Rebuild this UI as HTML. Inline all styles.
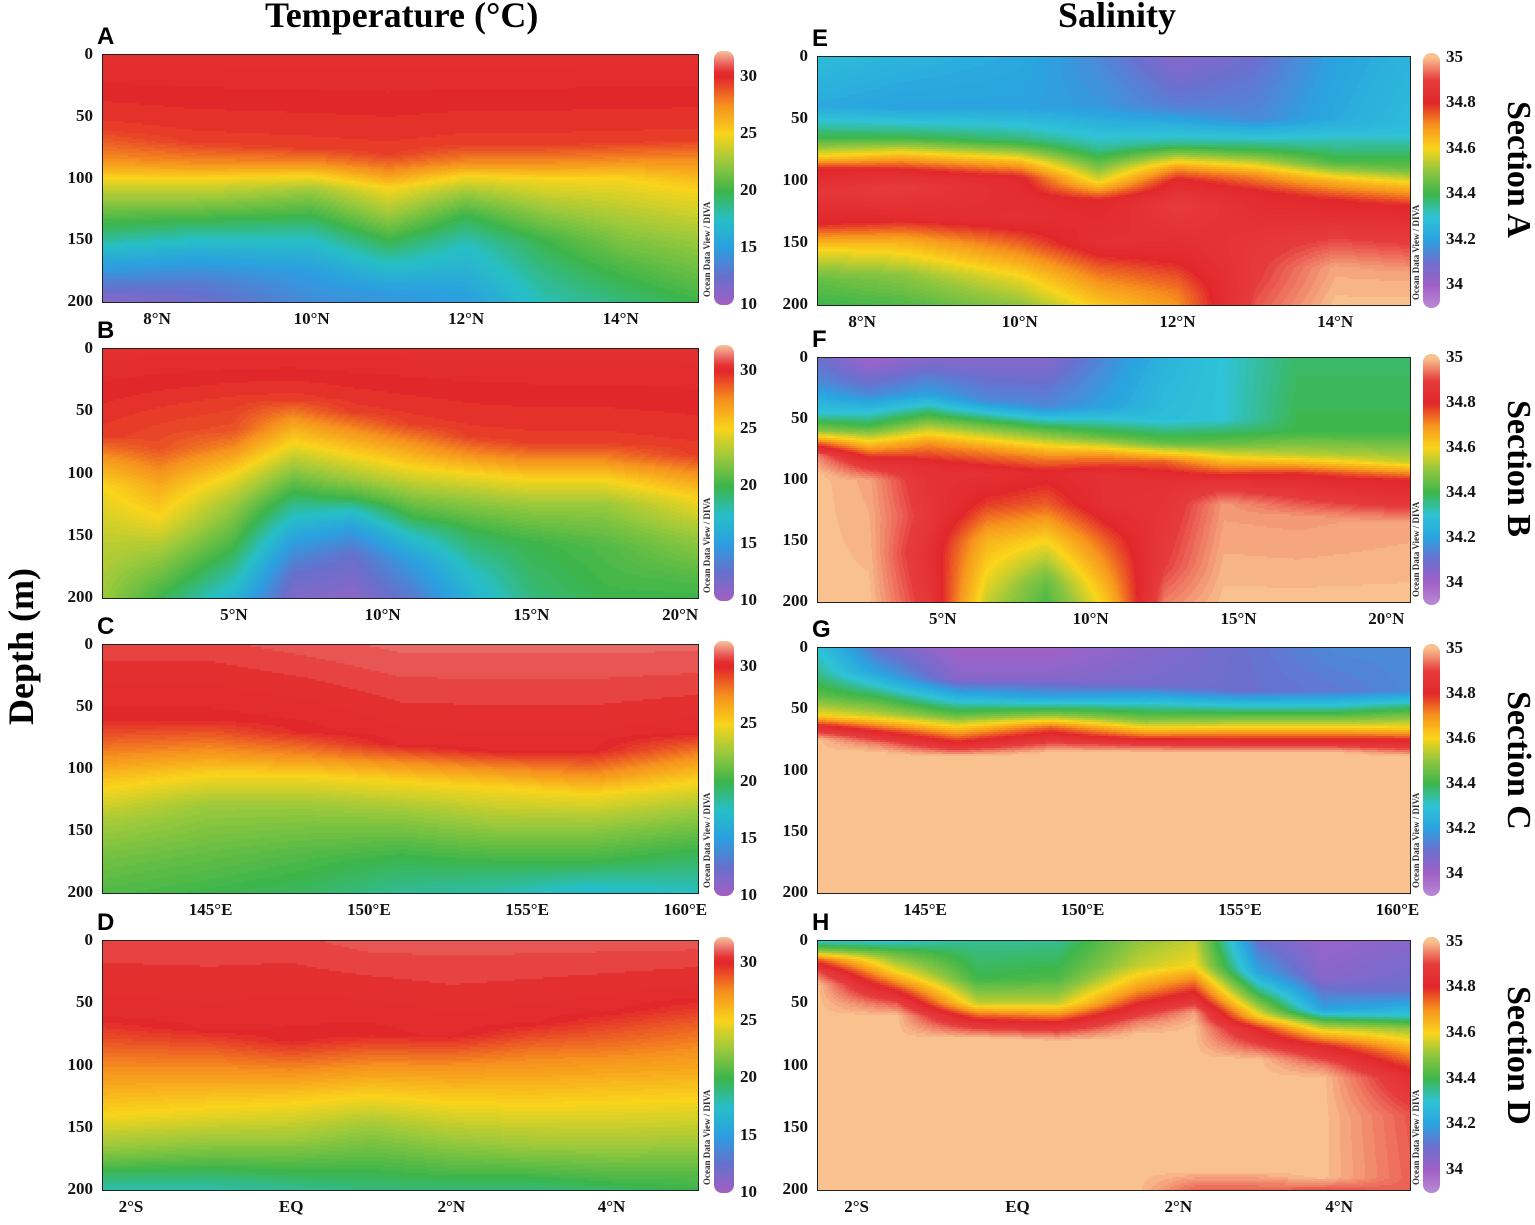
<!DOCTYPE html>
<html><head><meta charset="utf-8">
<style>
body{margin:0;background:#fff;}
#fig{position:relative;width:1535px;height:1225px;overflow:hidden;background:#fff;font-family:"Liberation Serif",serif;}
.abs{position:absolute;}
svg.field{position:absolute;}
.tick{position:absolute;font-family:"Liberation Serif",serif;font-weight:bold;font-size:17px;color:#111;white-space:nowrap;}
.plet{position:absolute;font-family:"Liberation Sans",sans-serif;font-weight:bold;font-size:24px;}
.frame{position:absolute;border:1.5px solid #222;box-sizing:border-box;}
.cbar{position:absolute;border-radius:8px;}
.odv{position:absolute;font-size:9px;font-weight:bold;color:#333;transform:rotate(-90deg);transform-origin:left top;white-space:nowrap;}
.sec{position:absolute;font-weight:bold;font-size:34px;transform:rotate(90deg);transform-origin:left top;white-space:nowrap;}
</style></head><body>
<div id="fig">
<div class="abs" style="left:265px;top:-6px;font-size:36px;font-weight:bold;">Temperature (°C)</div>
<div class="abs" style="left:1058px;top:-6px;font-size:36px;font-weight:bold;">Salinity</div>
<div class="abs" style="left:0px;top:725px;font-size:36px;font-weight:bold;transform:rotate(-90deg);transform-origin:left top;white-space:nowrap;">Depth (m)</div>
</div>
<script>
// ---------- DATA ----------
var tempTicks=[10,15,20,25,30];
var salTicks=[34,34.2,34.4,34.6,34.8,35];
var depthTicks=[0,50,100,150,200];

var stationsA=[7.3,8.5,10,11,12,13,14,15];
var profilesA=[
[[0,30.5],[60,29.5],[85,27.5],[100,25],[120,22],[145,19],[165,16],[190,12.5],[200,11]],
[[0,30.5],[70,29.5],[88,27.5],[100,25],[120,22],[140,19],[160,16],[185,13],[200,12]],
[[0,30.5],[75,29.5],[88,27.5],[98,25],[110,22.5],[130,20],[150,17.5],[175,15],[200,14]],
[[0,30.5],[80,29.5],[95,27.5],[108,25],[130,22.5],[150,20],[170,17.5],[190,15],[200,14.5]],
[[0,30.5],[72,29.5],[88,27.5],[98,25],[112,22.5],[130,20],[155,17.5],[190,15.5],[200,15]],
[[0,30.5],[72,29.5],[88,27.5],[100,25],[125,22.5],[150,20],[200,17.8]],
[[0,30.5],[70,29.5],[86,27.5],[100,25],[130,23],[170,20.5],[200,19]],
[[0,30.5],[68,29.5],[85,27.5],[110,25],[150,22.5],[180,21],[200,20]]];

var stationsB=[0.6,2.5,5,7,9,11,13,15,17.5,20.6];
var profilesB=[
[[0,30.5],[70,29.5],[90,27],[110,25],[150,23.5],[200,22.5]],
[[0,30.5],[80,29],[110,26.5],[135,25],[165,22.5],[200,20]],
[[0,30.5],[65,29],[80,27.5],[100,25],[125,22.5],[160,20],[190,17.5],[200,16.5]],
[[0,30.5],[40,29.5],[55,27.5],[75,25],[95,22.5],[115,20],[135,17.5],[155,15],[180,12.5],[200,11.5]],
[[0,30.5],[50,29.5],[65,27.5],[85,25],[105,22.5],[120,20],[130,17.5],[145,15],[165,12.5],[200,11]],
[[0,30.5],[60,29.5],[75,27.5],[95,25],[115,22.5],[135,20],[150,17.5],[170,15],[200,13]],
[[0,30.5],[70,29.5],[85,27.5],[100,25],[120,22.5],[145,20],[180,17.5],[200,16.5]],
[[0,30.5],[75,29.5],[90,27.5],[105,25],[125,22.5],[155,20],[200,19]],
[[0,30.5],[75,29.5],[90,27.5],[105,25],[125,22.5],[160,20.5],[200,20]],
[[0,30.5],[85,29.5],[100,27.5],[120,25],[150,22.5],[185,20.5],[200,20]]];

var stationsC=[141.6,145,148,151,154,157,160.4];
var profilesC=[
[[0,30.8],[60,30],[85,28],[110,25.5],[140,23],[170,21.5],[200,20.5]],
[[0,30.8],[60,30],[85,27.5],[105,25],[130,22.5],[170,21],[200,20]],
[[0,31],[70,30],[90,27.5],[105,25],[130,22.5],[170,20.5],[200,19.5]],
[[0,31.2],[80,30.2],[95,27.5],[110,25],[135,22.5],[170,20],[200,18.5]],
[[0,31.2],[85,30.2],[100,27.5],[115,25],[145,22.5],[175,20],[200,18]],
[[0,31.2],[85,30.2],[105,27.5],[120,25],[145,22.5],[175,20],[195,17.5],[200,17]],
[[0,31.2],[70,30.2],[90,27.5],[110,25],[135,22.5],[165,20],[195,18],[200,17.5]]];

var stationsD=[-2.35,-1,0,1,2,3,4,5.08];
var profilesD=[
[[0,30.8],[60,30.2],[80,29],[110,27],[140,25],[170,22],[195,18.5],[200,18]],
[[0,30.8],[70,30.2],[90,28.5],[115,26.5],[140,24.5],[170,21.5],[195,18.5],[200,18]],
[[0,30.8],[80,30],[100,28],[125,25.5],[160,22.5],[185,20],[200,18.5]],
[[0,31],[75,30],[95,28],[120,25.5],[150,22.5],[185,20],[200,19]],
[[0,31],[75,30.2],[100,27.5],[130,25],[160,22.5],[190,20],[200,19]],
[[0,31],[65,30.2],[90,28],[125,25.5],[165,22.5],[195,19.5],[200,19]],
[[0,31],[55,30.2],[80,28.5],[115,26],[160,23],[195,20],[200,19.5]],
[[0,31],[45,30.2],[70,28.5],[105,26.5],[150,23.5],[190,20.5],[200,20]]];

var stationsE=[7.44,8.5,10,11,12,13,14,14.95];
var profilesE=[
[[0,34.28],[40,34.22],[65,34.4],[80,34.6],[90,34.8],[110,34.88],[135,34.8],[155,34.6],[180,34.45],[200,34.4]],
[[0,34.25],[40,34.2],[65,34.4],[80,34.65],[92,34.82],[105,34.9],[130,34.82],[150,34.65],[175,34.5],[200,34.42]],
[[0,34.22],[40,34.2],[68,34.38],[85,34.65],[98,34.82],[130,34.85],[155,34.72],[180,34.58],[200,34.5]],
[[0,34.15],[40,34.18],[75,34.35],[100,34.58],[115,34.8],[150,34.85],[170,34.75],[200,34.62]],
[[0,34.05],[40,34.13],[70,34.35],[90,34.7],[100,34.82],[120,34.9],[160,34.82],[190,34.72],[200,34.7]],
[[0,34.1],[50,34.15],[75,34.4],[95,34.7],[110,34.82],[150,34.88],[180,34.9],[200,34.92]],
[[0,34.2],[50,34.22],[85,34.42],[100,34.65],[115,34.8],[145,34.9],[170,34.98],[200,35]],
[[0,34.25],[60,34.28],[90,34.45],[105,34.65],[120,34.8],[150,34.9],[175,34.98],[200,35]]];

var stationsF=[0.8,2.5,4.5,6.5,8.5,10.5,12.5,14.5,17,20.8];
var profilesF=[
[[0,34.1],[20,34.15],[45,34.3],[60,34.5],[70,34.75],[80,34.95],[95,35],[200,35]],
[[0,34],[30,34.15],[55,34.4],[75,34.7],[85,34.85],[100,34.98],[200,35]],
[[0,34.05],[30,34.2],[50,34.45],[70,34.7],[90,34.85],[130,34.88],[160,34.85],[200,34.88]],
[[0,34.05],[35,34.15],[55,34.45],[75,34.7],[95,34.85],[120,34.78],[150,34.65],[200,34.55]],
[[0,34.05],[40,34.15],[60,34.45],[80,34.7],[95,34.82],[120,34.75],[150,34.6],[185,34.45],[200,34.42]],
[[0,34.15],[40,34.2],[65,34.45],[80,34.7],[95,34.85],[120,34.85],[150,34.75],[200,34.62]],
[[0,34.25],[50,34.28],[70,34.45],[85,34.75],[100,34.85],[140,34.88],[170,34.9],[200,34.95]],
[[0,34.3],[50,34.3],[70,34.45],[85,34.65],[100,34.85],[120,34.97],[200,35]],
[[0,34.38],[60,34.4],[80,34.55],[95,34.8],[110,34.88],[130,34.97],[200,35]],
[[0,34.38],[60,34.4],[85,34.55],[100,34.8],[115,34.85],[135,34.98],[200,35]]];

var stationsG=[141.6,143.5,146,149,152,155,158,160.4];
var profilesG=[
[[0,34.3],[20,34.35],[40,34.45],[55,34.6],[65,34.85],[75,35],[200,35]],
[[0,34.1],[20,34.2],[40,34.4],[55,34.55],[68,34.8],[78,34.95],[85,35],[200,35]],
[[0,34],[25,34.05],[40,34.25],[55,34.45],[70,34.7],[80,34.85],[88,35],[200,35]],
[[0,34],[25,34.05],[40,34.2],[55,34.5],[65,34.75],[75,34.88],[85,35],[200,35]],
[[0,34.05],[30,34.08],[45,34.3],[60,34.5],[70,34.7],[78,34.88],[85,35],[200,35]],
[[0,34.1],[35,34.1],[50,34.35],[62,34.55],[72,34.75],[80,34.9],[85,35],[200,35]],
[[0,34.15],[35,34.12],[50,34.35],[62,34.55],[72,34.75],[80,34.9],[85,35],[200,35]],
[[0,34.15],[35,34.15],[50,34.4],[65,34.6],[75,34.8],[82,34.9],[88,35],[200,35]]];

var stationsH=[-2.48,-1.5,-0.5,0.5,1.5,2.2,3,3.8,4.88];
var profilesH=[
[[0,34.3],[8,34.5],[15,34.75],[25,34.92],[35,35],[200,35]],
[[0,34.3],[10,34.45],[25,34.6],[40,34.8],[50,34.92],[60,35],[200,35]],
[[0,34.35],[30,34.4],[50,34.55],[60,34.75],[70,34.9],[78,35],[200,35]],
[[0,34.35],[30,34.42],[50,34.55],[62,34.75],[72,34.9],[80,35],[200,35]],
[[0,34.5],[20,34.55],[40,34.7],[55,34.85],[65,34.95],[75,35],[200,35]],
[[0,34.55],[20,34.6],[35,34.75],[48,34.87],[58,34.98],[70,35],[185,35],[200,34.93]],
[[0,34.1],[25,34.2],[45,34.42],[60,34.6],[70,34.8],[85,34.92],[95,35],[185,35],[200,34.93]],
[[0,34.02],[30,34.05],[55,34.2],[65,34.45],[75,34.65],[85,34.82],[100,34.95],[110,35],[190,35],[200,34.92]],
[[0,34.05],[40,34.1],[60,34.3],[70,34.5],[90,34.7],[110,34.85],[140,34.92],[200,34.93]]];

var xTicksAE=[[8,'8°N'],[10,'10°N'],[12,'12°N'],[14,'14°N']];
var xTicksBF=[[5,'5°N'],[10,'10°N'],[15,'15°N'],[20,'20°N']];
var xTicksCG=[[145,'145°E'],[150,'150°E'],[155,'155°E'],[160,'160°E']];
var xTicksDH=[[-2,'2°S'],[0,'EQ'],[2,'2°N'],[4,'4°N']];

// ---------- COLORMAPS ----------
var tempStops=[[10,'#a35fc2'],[12.5,'#6670cc'],[15,'#2b9fe0'],[17.5,'#27bfc6'],[20,'#3db54a'],[22.5,'#9ac93c'],[25,'#f9d41b'],[27.5,'#f6901e'],[30,'#e2272b'],[30.5,'#e3302f'],[31.2,'#ea6562'],[32.3,'#f8c39a']];
var salStops=[[33.9,'#b98ad4'],[34,'#a060c6'],[34.1,'#6d6fcf'],[34.2,'#2aa3e0'],[34.3,'#2ec3d6'],[34.4,'#3db64b'],[34.5,'#8ec63f'],[34.6,'#fad51b'],[34.7,'#f7941d'],[34.8,'#e2272b'],[34.9,'#e63b3c'],[35,'#f9c18e']];
function hex(c){return [parseInt(c.slice(1,3),16),parseInt(c.slice(3,5),16),parseInt(c.slice(5,7),16)];}
function cmap(stops,v){
  if(v<=stops[0][0])return hex(stops[0][1]);
  for(var i=1;i<stops.length;i++){if(v<=stops[i][0]){var a=hex(stops[i-1][1]),b=hex(stops[i][1]);var t=(v-stops[i-1][0])/(stops[i][0]-stops[i-1][0]);return [a[0]+(b[0]-a[0])*t,a[1]+(b[1]-a[1])*t,a[2]+(b[2]-a[2])*t];}}
  return hex(stops[stops.length-1][1]);
}
function prof(p,d){
  if(d<=p[0][0])return p[0][1];
  for(var i=1;i<p.length;i++){if(d<=p[i][0]){var t=(d-p[i-1][0])/(p[i][0]-p[i-1][0]);return p[i-1][1]+(p[i][1]-p[i-1][1])*t;}}
  return p[p.length-1][1];
}

// ---------- PANELS ----------
var fig=document.getElementById('fig');
var SVGNS='http://www.w3.org/2000/svg';
var LG={x0:103,x1:698}, RG={x0:818,x1:1410};
var panels=[
 {id:'a',letter:'A',g:LG,y0:55,y1:302,st:stationsA,pr:profilesA,xt:xTicksAE,xr:[7.3,15],kind:'t'},
 {id:'b',letter:'B',g:LG,y0:349,y1:598,st:stationsB,pr:profilesB,xt:xTicksBF,xr:[0.6,20.6],kind:'t'},
 {id:'c',letter:'C',g:LG,y0:645,y1:893,st:stationsC,pr:profilesC,xt:xTicksCG,xr:[141.6,160.4],kind:'t'},
 {id:'d',letter:'D',g:LG,y0:941,y1:1190,st:stationsD,pr:profilesD,xt:xTicksDH,xr:[-2.35,5.08],kind:'t'},
 {id:'e',letter:'E',g:RG,y0:57,y1:305,st:stationsE,pr:profilesE,xt:xTicksAE,xr:[7.44,14.95],kind:'s',sec:'Section A'},
 {id:'f',letter:'F',g:RG,y0:358,y1:602,st:stationsF,pr:profilesF,xt:xTicksBF,xr:[0.78,20.8],kind:'s',sec:'Section B'},
 {id:'g',letter:'G',g:RG,y0:648,y1:893,st:stationsG,pr:profilesG,xt:xTicksCG,xr:[141.6,160.4],kind:'s',sec:'Section C'},
 {id:'h',letter:'H',g:RG,y0:941,y1:1190,st:stationsH,pr:profilesH,xt:xTicksDH,xr:[-2.48,4.88],kind:'s',sec:'Section D'}
];

function add(tag,cls,style,text){var e=document.createElement(tag);if(cls)e.className=cls;e.style.cssText=style;if(text!=null)e.textContent=text;fig.appendChild(e);return e;}

panels.forEach(function(P){
  try{
  var W=P.g.x1-P.g.x0, H=P.y1-P.y0;
  var xScale=function(v){return (v-P.xr[0])/(P.xr[1]-P.xr[0])*W;};
  var yScale=function(d){return d/200*H;};
  var stops=P.kind==='t'?tempStops:salStops;
  var q=P.kind==='t'?0.25:0.01;
  var svg=document.createElementNS(SVGNS,'svg');
  svg.setAttribute('class','field');
  svg.setAttribute('width',W);svg.setAttribute('height',H);
  svg.setAttribute('style','left:'+P.g.x0+'px;top:'+P.y0+'px;');
  svg.setAttribute('shape-rendering','crispEdges');
  
  
  fig.appendChild(svg);
  var sx=P.st.map(xScale);
  var RH=2;
  var rows=Math.ceil(H/RH);
  var frag=document.createDocumentFragment();
  for(var r=0;r<rows;r++){
    var d=(r*RH+RH/2)/H*200;
    var sv=P.pr.map(function(p){return prof(p,d);});
    var runStart=0, runQ=null;
    var i=0;
    for(var x=0;x<=W;x++){
      var qv=null;
      if(x<W){
        while(i<sx.length-2&&x>sx[i+1])i++;
        var t=(x+0.5-sx[i])/(sx[i+1]-sx[i]);t=Math.max(0,Math.min(1,t));
        var v=sv[i]*(1-t)+sv[i+1]*t;
        qv=Math.round(v/q);
      }
      if(qv!==runQ){
        if(runQ!==null){
          var c=cmap(stops,runQ*q);
          var rc=document.createElementNS(SVGNS,'rect');
          rc.setAttribute('x',runStart);rc.setAttribute('y',r*RH);
          rc.setAttribute('width',x-runStart);rc.setAttribute('height',RH);
          rc.setAttribute('fill','rgb('+Math.round(c[0])+','+Math.round(c[1])+','+Math.round(c[2])+')');
          frag.appendChild(rc);
        }
        runQ=qv;runStart=x;
      }
    }
  }
  svg.appendChild(frag);

  var fr=add('div','frame','left:'+(P.g.x0-1)+'px;top:'+(P.y0-1)+'px;width:'+(W+2)+'px;height:'+(H+2)+'px;');
  
  
  var lt=add('div','plet','left:'+(P.g.x0-6)+'px;top:'+(P.y0-32)+'px;',P.letter);
  
  
  depthTicks.forEach(function(dd){
    var e=add('div','tick','left:'+(P.g.x0-62)+'px;width:52px;text-align:right;top:'+(P.y0+yScale(dd)-11)+'px;',String(dd));
    
    
  });
  P.xt.forEach(function(tk){
    var e=add('div','tick','left:'+(P.g.x0+xScale(tk[0])-40)+'px;width:80px;text-align:center;top:'+(P.y1+7)+'px;',tk[1]);
    
    
  });
  var isT=P.kind==='t';
  var cbx=isT?714:1423, cbw=isT?20:17;
  var vmin=isT?10:33.9, vmax=isT?32.3:35.02;
  var cbTop=P.y0-4, cbBot=P.y1+3;
  var cbY=function(v){return cbBot-(v-vmin)/(vmax-vmin)*(cbBot-cbTop);};
  var grad=stops.filter(function(s){return s[0]>=vmin;}).map(function(s){return s[1]+' '+((s[0]-vmin)/(vmax-vmin)*100).toFixed(1)+'%';}).join(',');
  var cb=add('div','cbar','left:'+cbx+'px;top:'+cbTop+'px;width:'+cbw+'px;height:'+(cbBot-cbTop)+'px;background:linear-gradient(to top,'+grad+');');
  
  
  (isT?tempTicks:salTicks).forEach(function(v){
    var e=add('div','tick','left:'+(cbx+cbw+6)+'px;top:'+(cbY(v)-11)+'px;',String(v));
    
    
  });
  var od=add('div','odv','left:'+(cbx-12)+'px;top:'+(P.y1-5)+'px;','Ocean Data View / DIVA');
  
  
  if(P.sec){
    var s=add('div','sec','left:1537px;top:'+((P.y0+P.y1)/2-80)+'px;',P.sec);
    
    
  }
  }catch(err){}
});
</script>
</body></html>
